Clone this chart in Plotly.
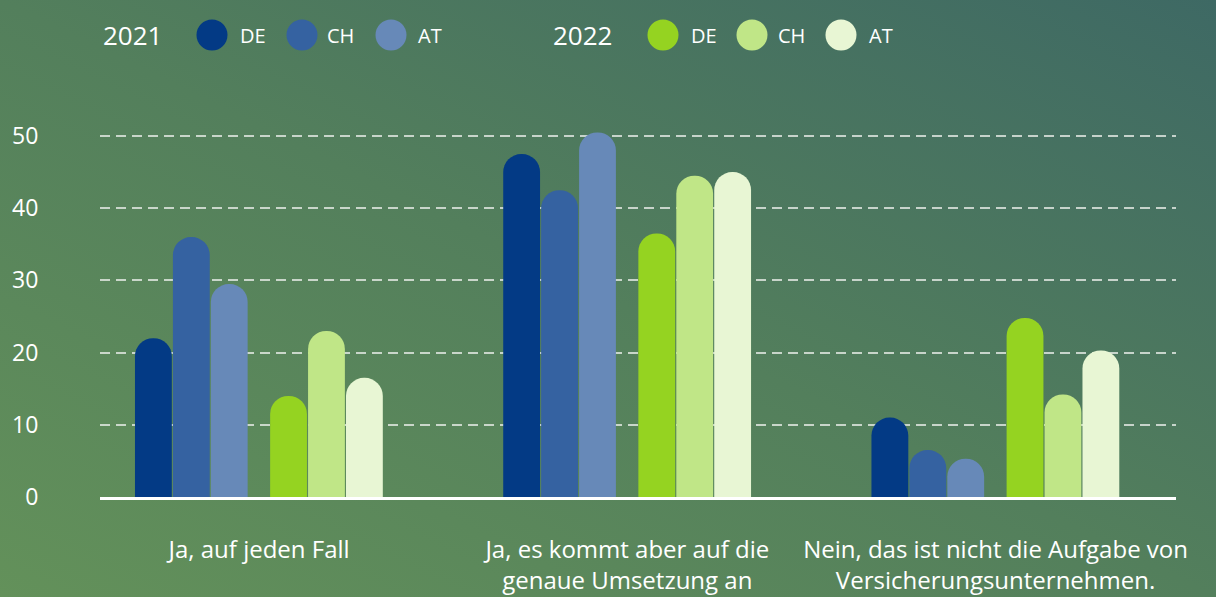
import base64
import plotly.graph_objects as go

# ---- data ----
categories = [
    "Ja, auf jeden Fall",
    "Ja, es kommt aber auf die<br>genaue Umsetzung an",
    "Nein, das ist nicht die Aufgabe von<br>Versicherungsunternehmen.",
]
de_2021 = [22, 47.5, 11]
ch_2021 = [36, 42.5, 6.5]
at_2021 = [29.5, 50.5, 5.3]
de_2022 = [14, 36.5, 24.8]
ch_2022 = [23, 44.5, 14.2]
at_2022 = [16.5, 45, 20.3]
y_ticks = [0, 10, 20, 30, 40, 50]

W, H = 1216, 597

series = [
    ("2021", "DE", de_2021, "#033a85", -0.337),
    ("2021", "CH", ch_2021, "#3562a1", -0.234),
    ("2021", "AT", at_2021, "#6789b8", -0.131),
    ("2022", "DE", de_2022, "#95d321", 0.030),
    ("2022", "CH", ch_2022, "#c0e687", 0.133),
    ("2022", "AT", at_2022, "#e8f6d4", 0.236),
]

fig = go.Figure()
for year, country, vals, color, off in series:
    fig.add_trace(go.Bar(
        x=categories, y=vals, name=f"{country} {year}",
        marker=dict(color=color, line=dict(width=0)),
        width=0.1, offset=off, showlegend=False,
        hovertemplate=f"{year} {country}: %{{y}}<extra></extra>",
    ))

# background gradient (svg data uri)
svg = f'''<svg xmlns="http://www.w3.org/2000/svg" width="{W}" height="{H}" viewBox="0 0 {W} {H}" preserveAspectRatio="none">
<defs><linearGradient id="g" x1="0" y1="1" x2="1" y2="0">
<stop offset="0" stop-color="#63915a"/>
<stop offset="0.5" stop-color="#537f5c"/>
<stop offset="1" stop-color="#3e6964"/>
</linearGradient></defs>
<rect width="{W}" height="{H}" fill="url(#g)"/></svg>'''
src = "data:image/svg+xml;base64," + base64.b64encode(svg.encode()).decode()

def px(x):
    return x / W

def py(y):
    return 1 - y / H

shapes = []
annotations = []
font_family = "Open Sans"

def legend_block(year, year_x, items):
    annotations.append(dict(text=year, x=px(year_x), y=py(35), xref="paper", yref="paper",
                            xanchor="left", yanchor="middle", showarrow=False,
                            font=dict(size=26, color="white", family=font_family)))
    for cx, tx, label, color in items:
        r = 15.5
        shapes.append(dict(type="circle", xref="paper", yref="paper",
                           x0=px(cx - r), x1=px(cx + r), y0=py(35 + r), y1=py(35 - r),
                           fillcolor=color, line=dict(width=0)))
        annotations.append(dict(text=label, x=px(tx), y=py(35), xref="paper", yref="paper",
                                xanchor="left", yanchor="middle", showarrow=False,
                                font=dict(size=20, color="white", family=font_family)))

legend_block("2021", 101, [(212, 238, "DE", series[0][3]), (302, 325, "CH", series[1][3]),
                           (391, 416, "AT", series[2][3])])
legend_block("2022", 551, [(663, 689, "DE", series[3][3]), (752, 776, "CH", series[4][3]),
                           (841, 867, "AT", series[5][3])])

y_top_px = 121.5
y_zero_px = 497
y_max = 50 * (y_zero_px - y_top_px) / (y_zero_px - 136)

fig.update_layout(
    width=W, height=H,
    margin=dict(l=0, r=0, t=0, b=0, pad=0),
    autosize=False,
    paper_bgcolor="#527e5c",
    plot_bgcolor="rgba(0,0,0,0)",
    barcornerradius="50%",
    font=dict(family=font_family, color="white"),
    images=[dict(source=src, xref="paper", yref="paper", x=0, y=1, sizex=1, sizey=1,
                 sizing="stretch", layer="below")],
    shapes=shapes,
    annotations=annotations,
    xaxis=dict(
        domain=[px(100), px(1176)],
        range=[-0.432, 2.49],
        automargin=False,
        showgrid=False, zeroline=False,
        showline=True, linecolor="white", linewidth=3,
        ticks="outside", ticklen=29, tickcolor="rgba(0,0,0,0)",
        tickfont=dict(size=24, color="white", family=font_family),
        layer="above traces",
        fixedrange=True,
    ),
    yaxis=dict(
        domain=[1 - y_zero_px / H, 1 - y_top_px / H],
        range=[0, y_max],
        automargin=False,
        tickvals=y_ticks,
        showgrid=True, gridcolor="rgba(230,235,230,0.8)", gridwidth=2, griddash="10px,6px",
        zeroline=False, showline=False,
        ticks="outside", ticklen=56, tickcolor="rgba(0,0,0,0)",
        tickfont=dict(size=23, color="white", family=font_family),
        fixedrange=True,
    ),
)

fig.write_html(
    "out.html",
    config={"displayModeBar": False},
    post_script="document.body.style.margin='0';document.body.style.overflow='hidden';",
)
